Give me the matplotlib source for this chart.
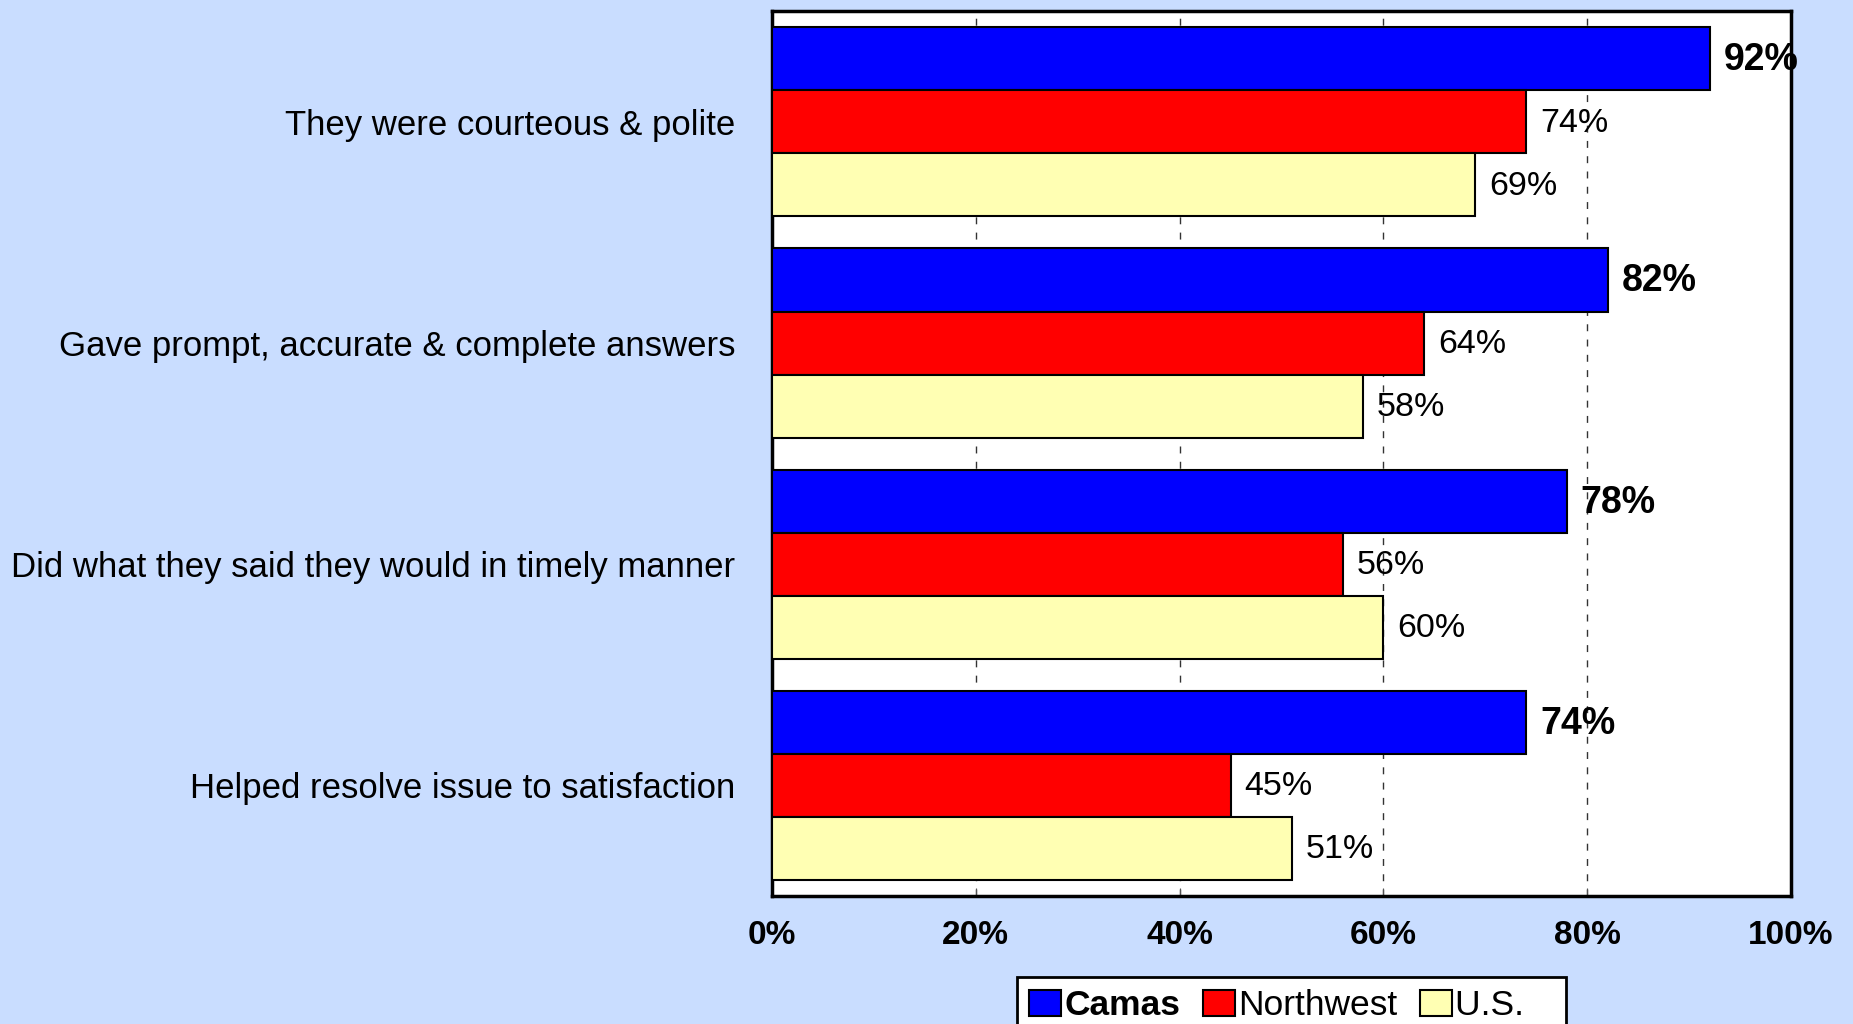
import matplotlib.pyplot as plt
import numpy as np
from matplotlib.patches import Patch

categories = [
    "They were courteous & polite",
    "Gave prompt, accurate & complete answers",
    "Did what they said they would in timely manner",
    "Helped resolve issue to satisfaction",
]
camas = [92, 82, 78, 74]
northwest = [74, 64, 56, 45]
us = [69, 58, 60, 51]

series_names = ["Camas", "Northwest", "U.S.   "]
colors = ["#0000FF", "#FF0000", "#FFFFB3"]

bg = "#C9DDFF"
fig = plt.figure(figsize=(18.53, 10.24), dpi=100, facecolor=bg)
ax = fig.add_axes([0.4166, 0.125, 0.55, 0.864])
ax.set_facecolor("white")

y = np.arange(len(categories))
h = 0.285
for k, (vals, col) in enumerate(zip([camas, northwest, us], colors)):
    pos = y + (k - 1) * h
    ax.barh(pos, vals, height=h, color=col, edgecolor="black", linewidth=1.5, zorder=3)
    for p, v in zip(pos, vals):
        if k == 0:
            ax.annotate(f"{v}%", xy=(v, p), xytext=(10, -1), textcoords="offset points",
                        ha="left", va="center", fontsize=27, fontweight="bold",
                        family="Liberation Sans", zorder=5, annotation_clip=False)
        else:
            ax.annotate(f"{v}%", xy=(v, p), xytext=(10, -1), textcoords="offset points",
                        ha="left", va="center", fontsize=24.5,
                        family="Liberation Sans", zorder=5)

ax.set_xlim(0, 100)
ax.set_ylim(3.5, -0.5)
ax.set_xticks([0, 20, 40, 60, 80, 100])
ax.set_xticklabels([f"{t}%" for t in [0, 20, 40, 60, 80, 100]],
                   fontsize=24, fontweight="bold", family="Liberation Sans")
ax.set_yticks(y)
ax.set_yticklabels(categories, fontsize=25, family="Liberation Sans")
ax.tick_params(axis="y", length=0, pad=26.5)
ax.tick_params(axis="x", direction="in", length=6, pad=17, color="#555555")
ax.grid(axis="x", linestyle=(0, (5, 6)), color="#333333", linewidth=1, zorder=0)
for s in ax.spines.values():
    s.set_linewidth(2.5)

handles = [Patch(facecolor=c, edgecolor="black", linewidth=1.5) for c in colors]
leg = fig.legend(handles, series_names, loc="upper left", bbox_to_anchor=(1017 / 1853, 0.046),
                 borderaxespad=0, ncol=3, frameon=True, fancybox=False, edgecolor="black",
                 facecolor="white", framealpha=1,
                 prop={"family": "Liberation Sans", "size": 25.5},
                 handlelength=0.9, handleheight=0.75, handletextpad=0.08, columnspacing=0.65,
                 borderpad=0.35)
leg.get_frame().set_linewidth(2)
leg.get_texts()[0].set_fontweight("bold")

fig.savefig("out.png", dpi=100, facecolor=bg)
